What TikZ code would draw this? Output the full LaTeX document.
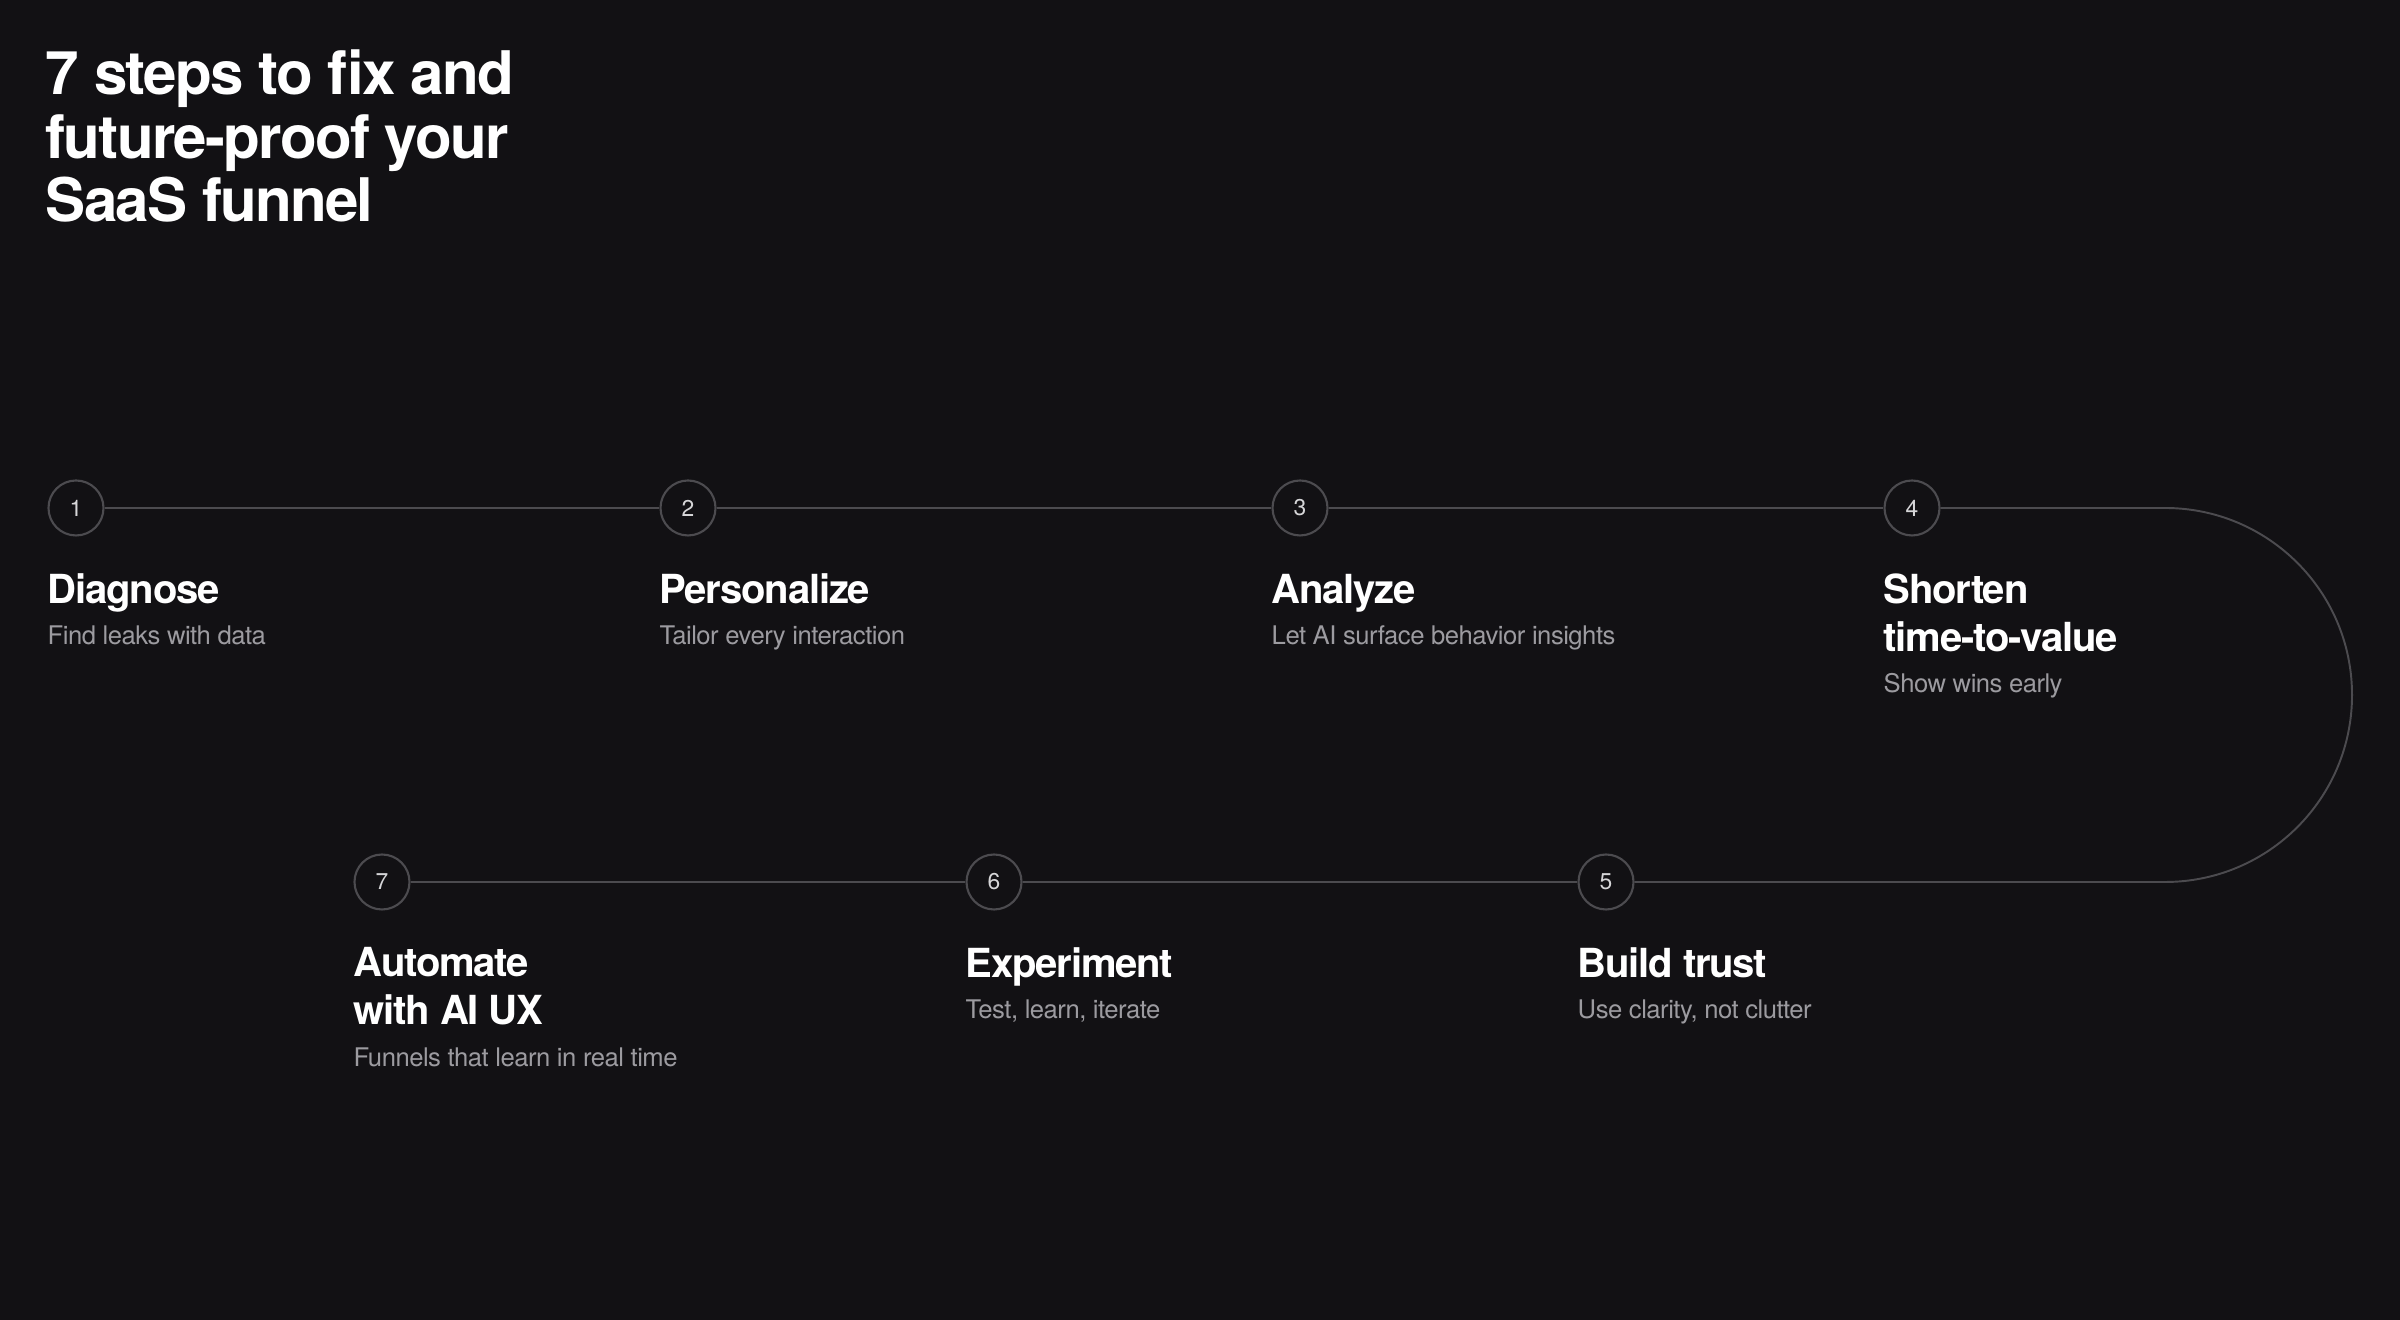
\documentclass[tikz,border=0pt]{standalone}
\usepackage{fontspec}
\setmainfont{TeX Gyre Heros}
\newfontfamily\headfont{TeX Gyre Heros}[LetterSpace=-3]
\newfontfamily\stepfont{TeX Gyre Heros}[LetterSpace=-3]
\newfontfamily\subfont{TeX Gyre Heros}[LetterSpace=-2]
\usetikzlibrary{positioning}
\definecolor{bgdark}{HTML}{121114}
\definecolor{linegray}{HTML}{4C4B4F}
\definecolor{subgray}{HTML}{9C9BA0}
\definecolor{numgray}{HTML}{D6D6D8}
\tikzset{
  stepnum/.style={circle,draw=linegray,line width=0.6pt,minimum size=0.55cm,inner sep=0pt,
    text=numgray,font=\fontsize{6.5}{7.5}\selectfont},
  steptitle/.style={anchor=base west,align=left,inner sep=0pt,text=white,
    font=\stepfont\bfseries\fontsize{11.4}{13.66}\selectfont},
  stepsub/.style={anchor=base west,inner sep=0pt,text=subgray,
    font=\subfont\fontsize{7.3}{8.5}\selectfont},
  track/.style={draw=linegray,line width=0.55pt}
}

\begin{document}
\begin{tikzpicture}
            \fill[bgdark] (0,0) rectangle (24,13.2);
            \useasboundingbox (0,0) rectangle (24,13.2);
            % multi-line nodes sit on their last baseline
            \node[anchor=base west,align=left,inner sep=0pt,text=white,
                font=\headfont\bfseries\fontsize{17.1}{18.2}\selectfont] (head) at (0.45,10.98)
                {7 steps to fix and\\future-proof your\\SaaS funnel};
            % top row
            \node[stepnum] (s1) at (0.76,8.12) {1};
            \node[stepnum] (s2) at (6.88,8.12) {2};
            \node[stepnum] (s3) at (13.00,8.12) {3};
            \node[stepnum] (s4) at (19.12,8.12) {4};
            % bottom row
            \node[stepnum] (s5) at (16.06,4.38) {5};
            \node[stepnum] (s6) at (9.94,4.38) {6};
            \node[stepnum] (s7) at (3.82,4.38) {7};
            \coordinate (turn) at (21.65,8.12);
            \draw[track] (s1) -- (s2);
            \draw[track] (s2) -- (s3);
            \draw[track] (s3) -- (s4);
            \draw[track] (s4) -- (turn) arc[start angle=90,end angle=-90,radius=1.87] -- (s5);
            \draw[track] (s5) -- (s6);
            \draw[track] (s6) -- (s7);
            \node[steptitle] (t1) at (0.47,7.16) {Diagnose};
            \node[stepsub] (d1) at (0.47,6.75) {Find leaks with data};
            \node[steptitle] (t2) at (6.59,7.16) {Personalize};
            \node[stepsub] (d2) at (6.59,6.75) {Tailor every interaction};
            \node[steptitle] (t3) at (12.71,7.16) {Analyze};
            \node[stepsub] (d3) at (12.71,6.75) {Let AI surface behavior insights};
            \node[steptitle] (t4) at (18.83,6.68) {Shorten\\time-to-value};
            \node[stepsub] (d4) at (18.83,6.27) {Show wins early};
            \node[steptitle] (t5) at (15.77,3.42) {Build trust};
            \node[stepsub] (d5) at (15.77,3.01) {Use clarity, not clutter};
            \node[steptitle] (t6) at (9.65,3.42) {Experiment};
            \node[stepsub] (d6) at (9.65,3.01) {Test, learn, iterate};
            \node[steptitle] (t7) at (3.53,2.95) {Automate\\with AI UX};
            \node[stepsub] (d7) at (3.53,2.53) {Funnels that learn in real time};
        \end{tikzpicture}
\end{document}
